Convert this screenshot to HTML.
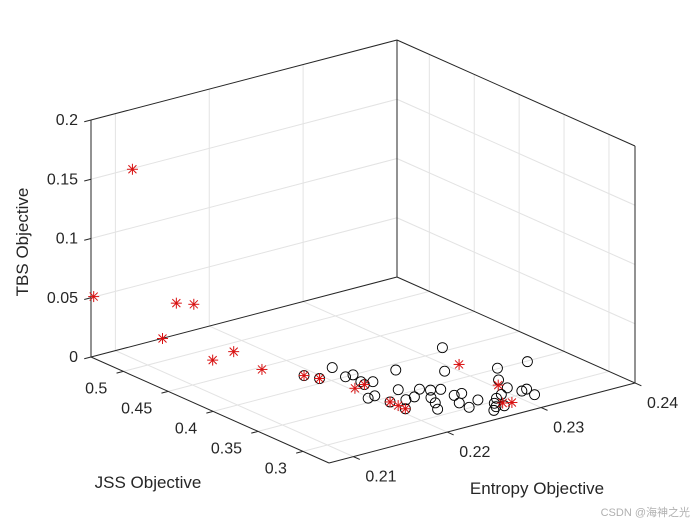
<!DOCTYPE html>
<html><head><meta charset="utf-8"><style>
html,body{margin:0;padding:0;background:#fff;}
svg{display:block;font-family:"Liberation Sans","Noto Sans CJK SC",sans-serif;}
</style></head><body>
<svg id="chart" width="700" height="525" viewBox="0 0 700 525">
<rect width="700" height="525" fill="#fff"/>
<g id="grid"></g>
<g id="box"></g>
<g id="ticks"></g>
<g id="circles"></g>
<g id="stars"></g>
<text x="28" y="242" font-size="17" fill="#262626" text-anchor="middle" transform="rotate(-90 28 242)">TBS Objective</text>
<text x="148" y="488" font-size="17" fill="#262626" text-anchor="middle">JSS Objective</text>
<text x="537" y="494" font-size="17" fill="#262626" text-anchor="middle">Entropy Objective</text>
<text x="690" y="516" font-size="11" fill="#b0b0b0" text-anchor="end">CSDN @海神之光</text>
</svg>
<script>
// circle series (black 'o')
const circJss = [.406,.420,.390,.368,.349,.351,.419,.408,.400,.400,.386,.380,.381,.358,.357,.342,.358,.339,.340,.350,.344,.332,.322,.311,.341,.326,.326,.312,.301,.309,.332,.316,.305,.306,.294,.297,.286,.304,.308,.289,.291,.325];
const circEnt = [.2324,.2220,.2259,.2290,.2360,.2330,.2189,.2195,.2215,.2223,.2218,.2216,.2226,.2206,.2198,.2207,.2231,.2221,.2231,.2246,.2252,.2241,.2236,.2228,.2260,.2260,.2268,.2252,.2252,.2269,.2313,.2307,.2312,.2318,.2315,.2275,.2264,.2284,.2293,.2278,.2271,.2207];
const circTbs = [0,0,0,0,0,0,0,0,0,0,0,0,0,0,0,0,0,0,0,0,0,0,0,0,0,0,0,0,0,0,0,0,0,0,0,0,0,0,0,0,0,0];
// star series (red '*')
const starJss = [.516,.533,.511,.502,.517,.467,.481,.446,.419,.408,.378,.380,.342,.333,.325,.354,.324,.291,.294];
const starEnt = [.2099,.2074,.2141,.2151,.2132,.2160,.2151,.2170,.2189,.2195,.2204,.2216,.2207,.2207,.2207,.2292,.2305,.2288,.2281];
const starTbs = [.16,.052,.04,.04,.01,.01,0,0,0,0,0,0,0,0,0,.01,0,0,0];
// ticks
const jssTicks = [0.3,0.35,0.4,0.45,0.5];
const jssTickLabels = ["0.3","0.35","0.4","0.45","0.5"];
const entTicks = [0.21,0.22,0.23,0.24];
const entTickLabels = ["0.21","0.22","0.23","0.24"];
const zTicks = [0,0.05,0.1,0.15,0.2];
const zTickLabels = ["0","0.05","0.1","0.15","0.2"];

const JMIN=0.271,JMAX=0.536,EMIN=0.2074,EMAX=0.24,ZMIN=0,ZMAX=0.2;
const F=[329,463], VJ=[-238,-106], VE=[306,-80], ZH=237;
function P(j,e,z){
  const a=(j-JMIN)/(JMAX-JMIN), b=(e-EMIN)/(EMAX-EMIN), c=(z-ZMIN)/(ZMAX-ZMIN);
  return [F[0]+a*VJ[0]+b*VE[0], F[1]+a*VJ[1]+b*VE[1]-c*ZH];
}
const NS="http://www.w3.org/2000/svg";
function line(g,p,q,col,w,name){
  const l=document.createElementNS(NS,"line");
  l.setAttribute("x1",p[0]);l.setAttribute("y1",p[1]);l.setAttribute("x2",q[0]);l.setAttribute("y2",q[1]);
  l.setAttribute("stroke",col);l.setAttribute("stroke-width",w);
  
  
  g.appendChild(l);return l;
}
function txt(g,x,y,s,anchor,name){
  const t=document.createElementNS(NS,"text");
  t.setAttribute("x",x);t.setAttribute("y",y);t.setAttribute("font-size","16");
  t.setAttribute("fill","#262626");t.setAttribute("text-anchor",anchor);t.textContent=s;
  
  
  g.appendChild(t);
}
const grid=document.getElementById("grid"),box=document.getElementById("box"),tk=document.getElementById("ticks");
const GC="#e3e3e3";
entTicks.forEach(e=>{ if(e>EMIN&&e<EMAX){
  line(grid,P(JMAX,e,ZMIN),P(JMAX,e,ZMAX),GC,1,"grid-line");
  line(grid,P(JMIN,e,ZMIN),P(JMAX,e,ZMIN),GC,1,"grid-line");}});
jssTicks.forEach(j=>{ if(j>JMIN&&j<JMAX){
  line(grid,P(j,EMAX,ZMIN),P(j,EMAX,ZMAX),GC,1,"grid-line");
  line(grid,P(j,EMIN,ZMIN),P(j,EMAX,ZMIN),GC,1,"grid-line");}});
zTicks.forEach(z=>{ if(z>ZMIN&&z<ZMAX){
  line(grid,P(JMAX,EMIN,z),P(JMAX,EMAX,z),GC,1,"grid-line");
  line(grid,P(JMAX,EMAX,z),P(JMIN,EMAX,z),GC,1,"grid-line");}});
const BC="#262626";
[[[JMAX,EMIN,ZMIN],[JMAX,EMIN,ZMAX]],[[JMAX,EMAX,ZMIN],[JMAX,EMAX,ZMAX]],[[JMIN,EMAX,ZMIN],[JMIN,EMAX,ZMAX]],
 [[JMAX,EMIN,ZMAX],[JMAX,EMAX,ZMAX]],[[JMAX,EMAX,ZMAX],[JMIN,EMAX,ZMAX]],
 [[JMAX,EMIN,ZMIN],[JMAX,EMAX,ZMIN]],[[JMAX,EMAX,ZMIN],[JMIN,EMAX,ZMIN]],
 [[JMAX,EMIN,ZMIN],[JMIN,EMIN,ZMIN]],[[JMIN,EMIN,ZMIN],[JMIN,EMAX,ZMIN]]].forEach(s=>{
  line(box,P(...s[0]),P(...s[1]),BC,1,"box-edge");});
const ue=[-VE[0]/Math.hypot(...VE)*7,-VE[1]/Math.hypot(...VE)*7];
const uj=[-VJ[0]/Math.hypot(...VJ)*7,-VJ[1]/Math.hypot(...VJ)*7];
zTicks.forEach((z,i)=>{const p=P(JMAX,EMIN,z);
  line(tk,p,[p[0]+ue[0],p[1]+ue[1]],BC,1,"z-tick");
  txt(tk,p[0]-13,p[1]+5,zTickLabels[i],"end","z-tick-label");});
jssTicks.forEach((j,i)=>{const p=P(j,EMIN,ZMIN);
  line(tk,p,[p[0]+ue[0],p[1]+ue[1]],BC,1,"jss-tick");
  txt(tk,p[0]-16,p[1]+22,jssTickLabels[i],"end","jss-tick-label");});
entTicks.forEach((e,i)=>{const p=P(JMIN,e,ZMIN);
  line(tk,p,[p[0]+uj[0],p[1]+uj[1]],BC,1,"entropy-tick");
  txt(tk,p[0]+12,p[1]+25,entTickLabels[i],"start","entropy-tick-label");});
const cg=document.getElementById("circles");
circJss.forEach((j,i)=>{const p=P(j,circEnt[i],circTbs[i]);
  const c=document.createElementNS(NS,"circle");
  c.setAttribute("cx",p[0]);c.setAttribute("cy",p[1]);c.setAttribute("r",5);
  c.setAttribute("fill","none");c.setAttribute("stroke","#000");c.setAttribute("stroke-width","0.9");
  
  
  cg.appendChild(c);});
const sg=document.getElementById("stars");
starJss.forEach((j,i)=>{const p=P(j,starEnt[i],starTbs[i]);
  const g=document.createElementNS(NS,"g");
  
  
  const r=5.5,d=4,col="#d81010";
  [[[-r,0],[r,0]],[[0,-r],[0,r]],[[-d,-d],[d,d]],[[-d,d],[d,-d]]].forEach(s=>{
    line(g,[p[0]+s[0][0],p[1]+s[0][1]],[p[0]+s[1][0],p[1]+s[1][1]],col,1,"star-stroke");});
  sg.appendChild(g);});
</script>
</body></html>
